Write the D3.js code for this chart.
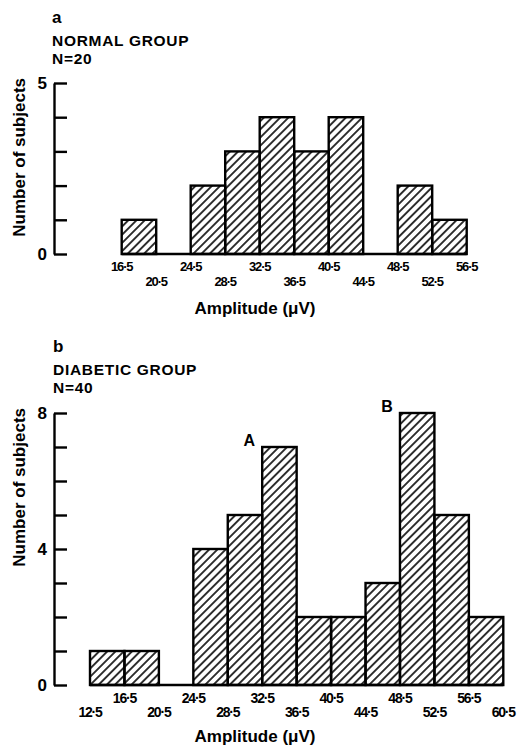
<!DOCTYPE html>
<html>
<head>
<meta charset="utf-8">
<script src="https://cdn.jsdelivr.net/npm/d3@7"></script>
<style>
  body { margin: 0; background: #fff; }
  svg { display: block; font-family: "Liberation Sans", Arial, sans-serif; font-weight: bold; }
</style>
</head>
<body>
<svg id="grafico"></svg>
<script>
// dados
const normalBordas = [16.5, 20.5, 24.5, 28.5, 32.5, 36.5, 40.5, 44.5, 48.5, 52.5, 56.5];
const normalContagens = [1, 0, 2, 3, 4, 3, 4, 0, 2, 1];
const normalRotulosY = [0, 5];

const diabeticoBordas = [12.5, 16.5, 20.5, 24.5, 28.5, 32.5, 36.5, 40.5, 44.5, 48.5, 52.5, 56.5, 60.5];
const diabeticoContagens = [1, 1, 0, 4, 5, 7, 2, 2, 3, 8, 5, 2];
const diabeticoRotulosY = [0, 4, 8];
const diabeticoPicos = [
    { rotulo: 'A', borda: 32.5, valor: 7 },
    { rotulo: 'B', borda: 48.5, valor: 8 }
];

const svg = d3.select('#grafico')
    .attr('width', 518)
    .attr('height', 747);

// hachura diagonal
svg.append('defs')
    .append('pattern')
    .attr('id', 'hachura')
    .attr('patternUnits', 'userSpaceOnUse')
    .attr('width', 5.8)
    .attr('height', 5.8)
    .attr('patternTransform', 'rotate(45)')
    .append('line')
    .attr('x1', 2.9).attr('y1', 0)
    .attr('x2', 2.9).attr('y2', 5.8)
    .attr('stroke', '#000')
    .attr('stroke-width', 1.6);

function fmt(v) {
    return String(v).replace('.', '\u00b7');
}

function Painel(p) {
    const g = svg.append('g');

    const fnX = d3.scaleLinear()
        .domain([p.bordas[0], p.bordas[p.bordas.length - 1]])
        .range(p.faixaX);

    const fnY = d3.scaleLinear()
        .domain([0, p.maxY])
        .range(p.faixaY);

    // titulos
    g.append('text').attr('x', p.xTitulo).attr('y', p.yTitulo).style('font-size', '17px').text(p.letra);
    g.append('text').attr('x', p.xTitulo).attr('y', p.yTitulo + 23)
        .style('font-size', '15.5px').style('letter-spacing', '0.7px').text(p.grupo);
    g.append('text').attr('x', p.xTitulo).attr('y', p.yTitulo + 40.5)
        .style('font-size', '15.5px').style('letter-spacing', '0.7px').text(p.n);

    // eixo Y
    const eixo = g.append('g')
        .attr('transform', 'translate(54,0)')
        .call(d3.axisRight(fnY).tickValues(d3.range(0, p.maxY + 1)).tickSize(13).tickSizeOuter(0).tickFormat(''));
    eixo.selectAll('path, line').attr('stroke', '#000').attr('stroke-width', 2.4);

    const rotY = g.append('g')
        .attr('transform', 'translate(54,0)')
        .call(d3.axisLeft(fnY).tickValues(p.rotulosY).tickSize(0).tickPadding(7).tickFormat(d3.format('d')));
    rotY.select('.domain').remove();
    rotY.selectAll('text')
        .attr('fill', '#000')
        .style('font-size', '17px')
        .style('font-family', '"Liberation Sans", Arial, sans-serif')
        .style('font-weight', 'bold');

    g.append('text')
        .attr('transform', 'translate(25,' + (fnY(p.maxY) - 5) + ') rotate(-90)')
        .style('text-anchor', 'end')
        .style('font-size', '17px')
        .text('Number of subjects');

    // barras
    const dados = p.contagens.map((c, i) => ({ x0: p.bordas[i], x1: p.bordas[i + 1], valor: c }));

    g.append('line')
        .attr('x1', fnX(p.bordas[0]))
        .attr('x2', fnX(p.bordas[p.bordas.length - 1]))
        .attr('y1', fnY(0))
        .attr('y2', fnY(0))
        .attr('stroke', '#000')
        .attr('stroke-width', 2.4);

    g.selectAll('.barra')
        .data(dados.filter(d => d.valor > 0))
        .enter()
        .append('rect')
        .classed('barra', true)
        .attr('x', d => fnX(d.x0))
        .attr('y', d => fnY(d.valor))
        .attr('width', d => fnX(d.x1) - fnX(d.x0))
        .attr('height', d => fnY(0) - fnY(d.valor))
        .attr('fill', 'url(#hachura)')
        .attr('stroke', '#000')
        .attr('stroke-width', 2.4);

    // rotulos do eixo X, em duas linhas alternadas
    g.selectAll('.rotuloX')
        .data(p.bordas)
        .enter()
        .append('text')
        .classed('rotuloX', true)
        .attr('x', d => fnX(d))
        .attr('y', d => ((d - 16.5) % 8 === 0) ? p.yLinha1 : p.yLinha2)
        .style('text-anchor', 'middle')
        .style('font-size', p.fonteX)
        .style('letter-spacing', '-1.2px')
        .text(fmt);

    g.append('text')
        .attr('x', 255)
        .attr('y', p.yAmplitude)
        .style('text-anchor', 'middle')
        .style('font-size', '17px')
        .text('Amplitude (\u03bcV)');

    if (p.picos) {
        g.selectAll('.pico')
            .data(p.picos)
            .enter()
            .append('text')
            .classed('pico', true)
            .attr('x', d => fnX(d.borda) - 13)
            .attr('y', d => fnY(d.valor) - 1.5)
            .style('text-anchor', 'middle')
            .style('font-size', '16px')
            .text(d => d.rotulo);
    }
}

new Painel({
    letra: 'a', grupo: 'NORMAL GROUP', n: 'N=20',
    xTitulo: 52, yTitulo: 23,
    bordas: normalBordas, contagens: normalContagens, rotulosY: normalRotulosY,
    maxY: 5, faixaX: [121.7, 466.7], faixaY: [254, 83],
    yLinha1: 270.7, yLinha2: 285.7, fonteX: '13px', yAmplitude: 314
});

new Painel({
    letra: 'b', grupo: 'DIABETIC GROUP', n: 'N=40',
    xTitulo: 53, yTitulo: 352,
    bordas: diabeticoBordas, contagens: diabeticoContagens, rotulosY: diabeticoRotulosY,
    maxY: 8, faixaX: [90, 503.3], faixaY: [685, 413],
    yLinha1: 703, yLinha2: 716.7, fonteX: '14px', yAmplitude: 741.7,
    picos: diabeticoPicos
});
</script>
</body>
</html>
